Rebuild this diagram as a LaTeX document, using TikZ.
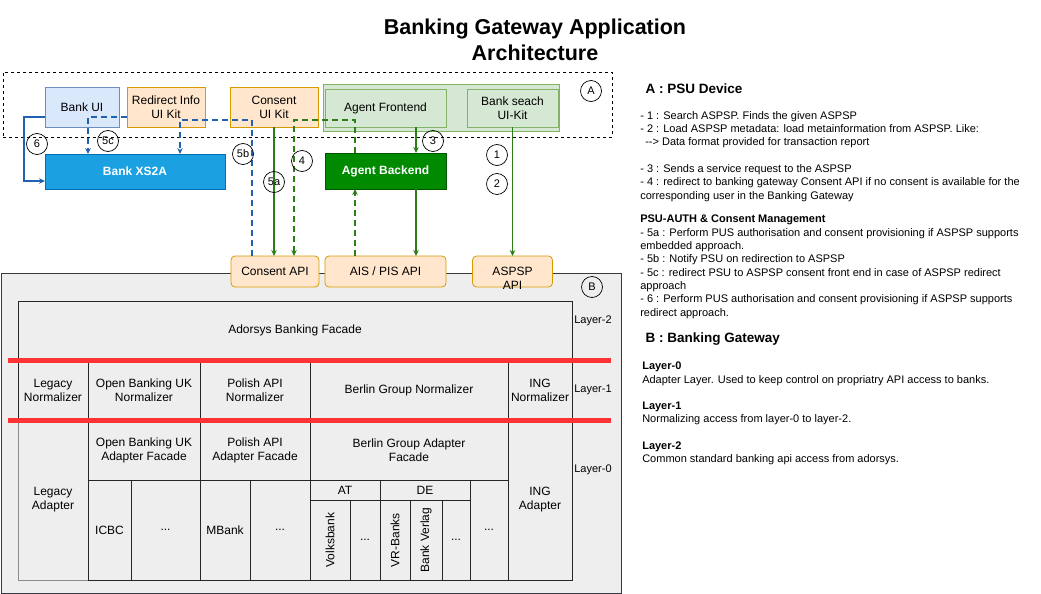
\documentclass[tikz,border=0pt]{standalone}
\usepackage{fontspec}
\setmainfont{Liberation Sans}
\usetikzlibrary{arrows.meta}

\definecolor{uiblue}{HTML}{DAE8FC}
\definecolor{uiblueline}{HTML}{6C8EBF}
\definecolor{kitorange}{HTML}{FFE6CC}
\definecolor{kitorangeline}{HTML}{D79B00}
\definecolor{agentgreen}{HTML}{D5E8D4}
\definecolor{agentgreenline}{HTML}{82B366}
\definecolor{xsblue}{HTML}{1BA1E2}
\definecolor{xsblueline}{HTML}{006EAF}
\definecolor{backendgreen}{HTML}{008A00}
\definecolor{backendgreenline}{HTML}{005700}
\definecolor{gwgray}{HTML}{EEEEEE}
\definecolor{gwgrayline}{HTML}{36393D}
\definecolor{layerred}{HTML}{FF3333}
\definecolor{flowblue}{HTML}{2162B0}
\definecolor{flowgreen}{HTML}{2A7D17}

\tikzset{
  box/.style={draw,line width=.8pt,inner sep=0pt,outer sep=0pt,anchor=north west,
    align=center,font=\fontsize{12}{14}\selectfont},
  uibox/.style={box,fill=uiblue,draw=uiblueline},
  kitbox/.style={box,fill=kitorange,draw=kitorangeline},
  agentbox/.style={box,fill=agentgreen,draw=agentgreenline},
  apibox/.style={kitbox,rounded corners=4pt},
  cellbox/.style={box,draw=black!85,line width=.6pt},
  numcirc/.style={draw,circle,line width=.7pt,minimum size=21pt,inner sep=0pt,
    font=\fontsize{11}{13}\selectfont},
  layerlbl/.style={font=\fontsize{11}{13}\selectfont},
  txt/.style={anchor=north west,align=left,inner sep=0pt,font=\fontsize{11}{13.3}\selectfont},
  flow/.style={line width=1.8pt,-{Stealth[length=6pt,width=5.5pt]}},
  blueflow/.style={flow,draw=flowblue},
  greenflow/.style={flow,draw=flowgreen},
  dashflow/.style={dash pattern=on 6pt off 4pt}
}

\begin{document}
\begin{tikzpicture}[x=1pt,y=-1pt,line width=.2mm]
  \useasboundingbox (0,0) rectangle (1041,594);

  \node[font=\fontsize{21.5}{26}\selectfont\bfseries,align=center] (title) at (535,40)
    {Banking Gateway Application\\Architecture};

  % A : PSU device
  \node[box,dash pattern=on 3pt off 3pt,minimum width=609pt,minimum height=65pt] (psu) at (3,72) {};
  \node[numcirc] (cA) at (591,91) {A};

  \node[agentbox,minimum width=236pt,minimum height=47pt] (agents) at (323,84) {};
  \node[uibox,minimum width=74pt,minimum height=40pt] (bankui) at (45,87) {Bank UI};
  \node[kitbox,minimum width=78pt,minimum height=40pt] (redirectkit) at (127,87) {Redirect Info\\UI Kit};
  \node[kitbox,minimum width=88pt,minimum height=40pt] (consentkit) at (230,87) {Consent\\UI Kit};
  \node[agentbox,minimum width=121pt,minimum height=38pt] (frontend) at (325,89) {Agent Frontend};
  \node[agentbox,minimum width=91pt,minimum height=38pt] (searchkit) at (467,89) {Bank seach\\UI-Kit};

  \node[box,fill=xsblue,draw=xsblueline,text=white,font=\fontsize{12}{14}\selectfont\bfseries,
    minimum width=180pt,minimum height=35pt] (xs2a) at (45,154) {Bank XS2A};
  \node[box,fill=backendgreen,draw=backendgreenline,text=white,font=\fontsize{12}{14}\selectfont\bfseries,
    minimum width=121pt,minimum height=36pt] (backend) at (325,153) {Agent Backend};

  % B : banking gateway
  \node[box,fill=gwgray,draw=gwgrayline,minimum width=620pt,minimum height=320pt] (gateway) at (1,273) {};
  \node[numcirc] (cB) at (592,287) {B};

  \node[cellbox,minimum width=554pt,minimum height=59pt] (facade) at (18,301) {Adorsys Banking Facade};

  \node[cellbox,minimum width=70pt,minimum height=60pt] (legnorm) at (18,360) {Legacy\\Normalizer};
  \node[cellbox,minimum width=112pt,minimum height=60pt] (obnorm) at (88,360) {Open Banking UK\\Normalizer};
  \node[cellbox,minimum width=110pt,minimum height=60pt] (plnorm) at (200,360) {Polish API\\Normalizer};
  \node[cellbox,minimum width=198pt,minimum height=60pt] (bgnorm) at (310,360) {Berlin Group Normalizer};
  \node[cellbox,minimum width=64pt,minimum height=60pt] (ingnorm) at (508,360) {ING\\Normalizer};

  \node[cellbox,draw=black!45,minimum width=70pt,minimum height=160pt] (legad) at (18,420) {Legacy\\Adapter};
  \node[cellbox,minimum width=112pt,minimum height=60pt] (obad) at (88,420) {Open Banking UK\\Adapter Facade};
  \node[cellbox,minimum width=110pt,minimum height=60pt] (plad) at (200,420) {Polish API\\Adapter Facade};
  \node[cellbox,minimum width=198pt,minimum height=60pt] (bgad) at (310,420) {Berlin Group Adapter\\Facade};
  \node[cellbox,minimum width=64pt,minimum height=160pt] (ingad) at (508,420) {ING\\Adapter};

  \node[cellbox,minimum width=43pt,minimum height=100pt] (icbc) at (88,480) {ICBC};
  \node[cellbox,minimum width=69pt,minimum height=100pt] (obdots) at (131,480) {...};
  \node[cellbox,minimum width=50pt,minimum height=100pt] (mbank) at (200,480) {MBank};
  \node[cellbox,minimum width=60pt,minimum height=100pt] (pldots) at (250,480) {...};
  \node[cellbox,minimum width=70pt,minimum height=20pt] (at) at (310,480) {AT};
  \node[cellbox,minimum width=90pt,minimum height=20pt] (de) at (380,480) {DE};
  \node[cellbox,minimum width=38pt,minimum height=100pt] (bgdots) at (470,480) {...};
  \node[cellbox,minimum width=40pt,minimum height=80pt] (volks) at (310,500) {};
  \node[cellbox,minimum width=30pt,minimum height=80pt] (atdots) at (350,500) {...};
  \node[cellbox,minimum width=30pt,minimum height=80pt] (vrbanks) at (380,500) {};
  \node[cellbox,minimum width=32pt,minimum height=80pt] (verlag) at (410,500) {};
  \node[cellbox,minimum width=28pt,minimum height=80pt] (dedots) at (442,500) {...};
  \node[rotate=90,font=\fontsize{12}{14}\selectfont] (volkstxt) at (volks.center) {Volksbank};
  \node[rotate=90,font=\fontsize{12}{14}\selectfont] (vrbankstxt) at (vrbanks.center) {VR-Banks};
  \node[rotate=90,font=\fontsize{12}{14}\selectfont] (verlagtxt) at (verlag.center) {Bank Verlag};

  \draw[layerred,line width=5pt] (8,360) -- (611,360);
  \draw[layerred,line width=5pt] (8,420) -- (611,420);

  \node[layerlbl] (layer2) at (593,321) {Layer-2};
  \node[layerlbl] (layer1) at (593,390) {Layer-1};
  \node[layerlbl] (layer0) at (593,470) {Layer-0};

  \node[apibox,minimum width=88pt,minimum height=31pt] (consentapi) at (231,256) {Consent API};
  \node[apibox,minimum width=121pt,minimum height=31pt] (aisapi) at (325,256) {AIS / PIS API};
  \node[apibox,minimum width=80pt,minimum height=31pt] (aspspapi) at (472.5,256) {};
  \node[align=center,font=\fontsize{12}{14}\selectfont] (aspsptxt) at (512.5,278) {ASPSP\\API};

  % flows
  \draw[blueflow] ([yshift=-10pt]bankui.west) -- ++(-21,0) |- ([yshift=-9.5pt]xs2a.west);
  \draw[blueflow,dashflow] ([yshift=-10pt]redirectkit.west) -| ([xshift=-47pt]xs2a.north);
  \draw[blueflow,dashflow] ([xshift=-23pt]consentapi.north) -- ([xshift=-22pt,yshift=-33pt]consentkit.north)
    -| ([xshift=45pt]xs2a.north);
  \draw[greenflow] (consentkit.south) -- (consentkit.south |- consentapi.north);
  \draw[greenflow,dashflow] ([xshift=-30.5pt]backend.north) -- ++(0,-33) -| ([xshift=19pt]consentapi.north);
  \draw[greenflow] ([xshift=30.5pt]frontend.south) -- ([xshift=30.5pt]backend.north);
  \draw[greenflow,dashflow] ([xshift=-30.5pt]aisapi.north) -- ([xshift=-30.5pt]backend.south);
  \draw[greenflow] ([xshift=30.5pt]backend.south) -- ([xshift=30.5pt]aisapi.north);
  \draw[greenflow] (searchkit.south) -- (aspspapi.north);

  \node[numcirc] (c6) at (37,144) {6};
  \node[numcirc] (c5c) at (108,141) {5c};
  \node[numcirc] (c5b) at (243,154) {5b};
  \node[numcirc] (c4) at (302,161) {4};
  \node[numcirc] (c5a) at (274,182) {5a};
  \node[numcirc] (c3) at (433,141) {3};
  \node[numcirc] (c1) at (497,155) {1};
  \node[numcirc] (c2) at (497,184) {2};

  % notes
  \node[anchor=west,font=\fontsize{13.5}{16}\selectfont\bfseries] (psuhead) at (642,89) {A : PSU Device};
  \node[txt] (psunotes) at (640,111) {- 1 : Search ASPSP. Finds the given ASPSP\\
    - 2 : Load ASPSP metadata: load metainformation from ASPSP. Like:\\
    \hspace*{5pt}-{}-> Data format provided for transaction report\\[13.3pt]
    - 3 : Sends a service request to the ASPSP\\
    - 4 : redirect to banking gateway Consent API if no consent is available for the\\
    corresponding user in the Banking Gateway};
  \node[txt] (authnotes) at (640,215) {\textbf{PSU-AUTH \& Consent Management}\\
    - 5a : Perform PUS authorisation and consent provisioning if ASPSP supports\\
    embedded approach.\\
    - 5b : Notify PSU on redirection to ASPSP\\
    - 5c : redirect PSU to ASPSP consent front end in case of ASPSP redirect\\
    approach\\
    - 6 : Perform PUS authorisation and consent provisioning if ASPSP supports\\
    redirect approach.};
  \node[anchor=west,font=\fontsize{13.5}{16}\selectfont\bfseries] (gwhead) at (642,339) {B : Banking Gateway};
  \node[txt] (layernotes) at (642,362) {\textbf{Layer-0}\\
    Adapter Layer. Used to keep control on propriatry API access to banks.\\[13pt]
    \textbf{Layer-1}\\
    Normalizing access from layer-0 to layer-2.\\[13pt]
    \textbf{Layer-2}\\
    Common standard banking api access from adorsys.};
\end{tikzpicture}
\end{document}
